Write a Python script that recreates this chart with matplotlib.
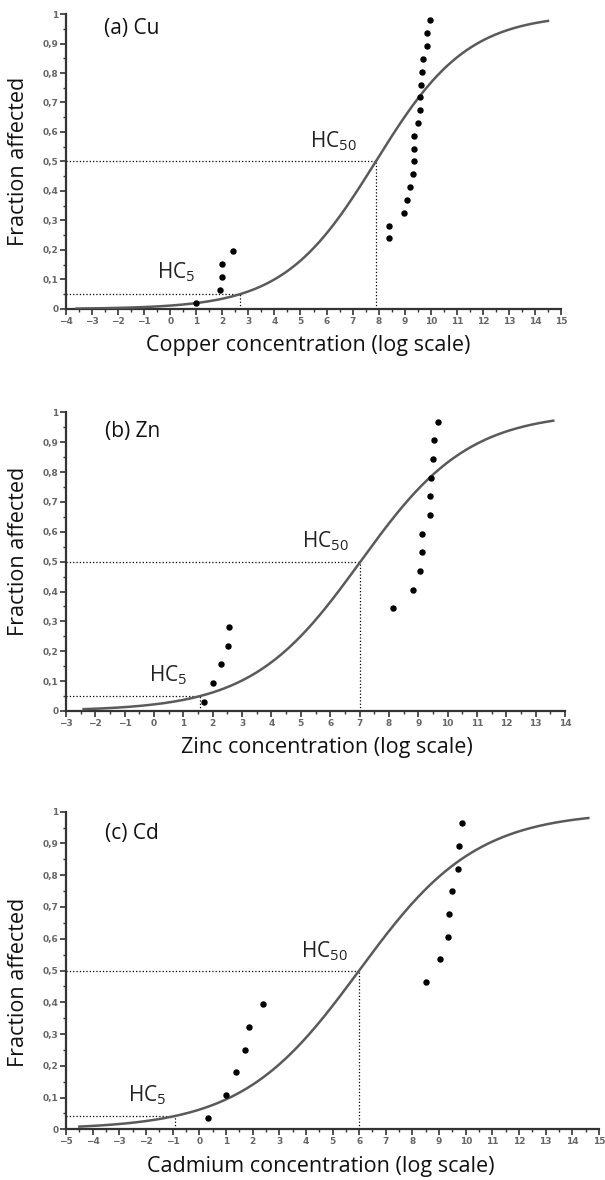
import numpy as np
import matplotlib
matplotlib.use('Agg')
import matplotlib.pyplot as plt
from matplotlib.ticker import MultipleLocator, FixedLocator

plt.rcParams['font.family'] = ['Open Sans', 'DejaVu Sans']
plt.rcParams['mathtext.fontset'] = 'custom'
plt.rcParams['mathtext.rm'] = 'Open Sans'
plt.rcParams['mathtext.it'] = 'Open Sans:italic'

# Daten
cu_x = [1.0, 1.91, 2.0, 2.0, 2.40, 8.38, 8.39, 8.97, 9.10, 9.19, 9.31, 9.34,
        9.37, 9.37, 9.52, 9.58, 9.58, 9.64, 9.67, 9.72, 9.87, 9.87, 9.99]
cu_y = [0.022, 0.065, 0.109, 0.152, 0.196, 0.239, 0.283, 0.326, 0.370, 0.413,
        0.457, 0.500, 0.543, 0.587, 0.630, 0.674, 0.717, 0.761, 0.804, 0.848,
        0.891, 0.935, 0.978]
zn_x = [1.71, 2.01, 2.29, 2.51, 2.57, 8.14, 8.82, 9.05, 9.12, 9.14, 9.41, 9.41,
        9.45, 9.51, 9.54, 9.68]
zn_y = [0.031, 0.094, 0.156, 0.219, 0.281, 0.344, 0.406, 0.469, 0.531, 0.594,
        0.656, 0.719, 0.781, 0.844, 0.906, 0.969]
cd_x = [0.31, 1.02, 1.38, 1.71, 1.85, 2.41, 8.52, 9.04, 9.34, 9.37, 9.47, 9.72,
        9.76, 9.86]
cd_y = [0.036, 0.107, 0.179, 0.250, 0.321, 0.393, 0.464, 0.536, 0.607, 0.679,
        0.750, 0.821, 0.893, 0.964]

# HC50, HC5 und Niveau der HC5-Linie
hc50 = [7.89, 7.03, 6.0]
hc5 = [2.67, 1.57, -0.9]
hc5_level = [0.05, 0.05, 0.042]
curve_range = [(-3.6, 14.5), (-2.4, 13.6), (-4.5, 14.6)]
x_limits = [(-4, 15), (-3, 14), (-5, 15)]

titles = ['(a) Cu', '(b) Zn', '(c) Cd']
xlabels = ['Copper concentration (log scale)', 'Zinc concentration (log scale)',
           'Cadmium concentration (log scale)']
points = [(cu_x, cu_y), (zn_x, zn_y), (cd_x, cd_y)]
ytick_vals = [0, 0.1, 0.2, 0.3, 0.4, 0.5, 0.6, 0.7, 0.8, 0.9, 1.0]
ytick_labels = ['0', '0,1', '0,2', '0,3', '0,4', '0,5', '0,6', '0,7', '0,8', '0,9', '1']

# Positionen der Achsen (Pixel im 605x1180-Bild)
W, H = 605, 1180
boxes = [(66, 561, 14, 309), (66, 565, 412.3, 711), (66, 599, 811.7, 1129.3)]
title_pos = [(-2.56, 0.952), (-1.68, 0.935), (-3.55, 0.932)]
hc50_pos = [(5.37, 0.57), (5.03, 0.567), (3.83, 0.56)]
hc5_pos = [(-0.49, 0.124), (-0.17, 0.12), (-2.68, 0.108)]
xlabel_x = [0.489, 0.523, 0.478]
ylabel_y = [0.50, 0.533, 0.464]

fig = plt.figure(figsize=(6.05, 11.8), dpi=100)
tick_font = dict(family=['Liberation Sans Narrow', 'DejaVu Sans'], size=6.5,
                 color='#666666', weight='bold')

for i in range(3):
    l, r, t, b = boxes[i]
    ax = fig.add_axes([l / W, 1 - b / H, (r - l) / W, (b - t) / H])
    x0, x1 = x_limits[i]
    ax.set_xlim(x0, x1)
    ax.set_ylim(0, 1)

    # Verteilungskurve (log-logistisch)
    s = (hc50[i] - hc5[i]) / np.log((1 - hc5_level[i]) / hc5_level[i])
    xc = np.linspace(curve_range[i][0], curve_range[i][1], 300)
    yc = 1 / (1 + np.exp(-(xc - hc50[i]) / s))
    ax.plot(xc, yc, color='#5a5a5a', lw=1.8, zorder=3)

    # Messpunkte
    px, py = points[i]
    ax.scatter(px, py, s=13, color='black', zorder=4, clip_on=False)

    # gepunktete Hilfslinien
    ax.plot([x0, hc50[i]], [0.5, 0.5], ls=':', color='black', lw=0.9)
    ax.plot([hc50[i], hc50[i]], [0, 0.5], ls=':', color='black', lw=0.9)
    ax.plot([x0, hc5[i]], [hc5_level[i], hc5_level[i]], ls=':', color='black', lw=0.9)
    ax.plot([hc5[i], hc5[i]], [0, hc5_level[i]], ls=':', color='black', lw=0.9)

    ax.text(title_pos[i][0], title_pos[i][1], titles[i], fontsize=15,
            ha='left', va='center', color='#111111')
    ax.text(hc50_pos[i][0], hc50_pos[i][1], r'HC$_{\mathrm{50}}$', fontsize=15,
            ha='left', va='center', color='#222222')
    ax.text(hc5_pos[i][0], hc5_pos[i][1], r'HC$_{\mathrm{5}}$', fontsize=15,
            ha='left', va='center', color='#222222')

    # Achsen
    for side in ['top', 'right']:
        ax.spines[side].set_visible(False)
    for side in ['left', 'bottom']:
        ax.spines[side].set_color('#333333')
        ax.spines[side].set_linewidth(1.6)
    ax.xaxis.set_major_locator(MultipleLocator(1))
    ax.xaxis.set_minor_locator(MultipleLocator(0.5))
    ax.yaxis.set_major_locator(FixedLocator(ytick_vals))
    ax.yaxis.set_minor_locator(MultipleLocator(0.05))
    ax.set_yticklabels(ytick_labels)
    ax.tick_params(which='major', length=4, width=1.2, color='#333333', pad=1.5)
    ax.tick_params(which='minor', length=2.5, width=1.0, color='#333333')
    for lab in ax.get_xticklabels() + ax.get_yticklabels():
        lab.set(**tick_font)

    ax.set_xlabel(xlabels[i], fontsize=15.5, color='#111111')
    ax.xaxis.label.set_va('center')
    ax.xaxis.set_label_coords(xlabel_x[i], -37 / (b - t))
    ax.set_ylabel('Fraction affected', fontsize=15.5, color='#111111')
    ax.yaxis.label.set_va('center')
    ax.yaxis.set_label_coords((19 - l) / (r - l), ylabel_y[i])

fig.savefig('out.png', dpi=100)
